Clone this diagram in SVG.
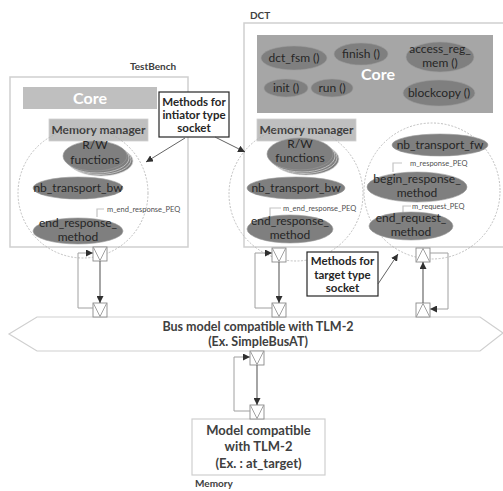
<svg xmlns="http://www.w3.org/2000/svg" width="503" height="491" viewBox="0 0 503 491">
  <style>
    text { font-family: Lato, "Liberation Sans", sans-serif; }
    .frame { fill: #ffffff; stroke: #cfcfcf; stroke-width: 1.5; }
    .title { font-size: 10px; font-weight: bold; fill: #404040; }
    .core { fill: #bfbfbf; }
    .coretxt { font-size: 16px; font-weight: bold; fill: #ffffff; text-anchor: middle; }
    .mm { fill: #bfbfbf; stroke: #d0d0d0; stroke-width: 0.8; }
    .mmtxt { font-size: 12px; font-weight: bold; fill: #404040; text-anchor: middle; }
    .ell { fill: #7f7f7f; stroke: #9a9a9a; stroke-width: 0.6; }
    .stack { fill: #7f7f7f; stroke: #d8d8d8; stroke-width: 0.7; }
    .etxt { font-size: 12px; fill: #262626; text-anchor: middle; }
    .ring { fill: none; stroke: #b0b0b0; stroke-width: 0.8; stroke-dasharray: 2 1.5; }
    .peq { font-size: 7.5px; fill: #505050; }
    .brk { fill: none; stroke: #c4c4c4; stroke-width: 1.2; }
    .note { fill: #ffffff; stroke: #262626; stroke-width: 1.2; }
    .notetxt { font-size: 11.5px; font-weight: bold; fill: #262626; text-anchor: middle; }
    .port { fill: #ffffff; stroke: #8a8a8a; stroke-width: 0.9; }
    .tri { fill: none; stroke: #8a8a8a; stroke-width: 0.8; }
    .flow { fill: none; stroke: #6a6a6a; stroke-width: 1.2; marker-end: url(#head); }
    .loop { fill: none; stroke: #a0a0a0; stroke-width: 1; marker-end: url(#head); }
    .point { fill: none; stroke: #505050; stroke-width: 0.9; marker-end: url(#head); }
    .bus { fill: #ffffff; stroke: #cfcfcf; stroke-width: 1.2; }
    .bustxt { font-size: 12.5px; font-weight: bold; fill: #404040; text-anchor: middle; }
    .memtxt { font-size: 13px; font-weight: bold; fill: #404040; text-anchor: middle; }
  </style>
  <defs>
    <marker id="head" viewBox="0 0 10 10" refX="10" refY="5" markerWidth="7" markerHeight="7" markerUnits="userSpaceOnUse" orient="auto">
      <path d="M0,0 L10,5 L0,10 z" fill="#303030"/>
    </marker>
    <g id="portDown">
      <rect class="port" x="0" y="0" width="14" height="14"/>
      <path class="tri" d="M0.5,0.5 L7,13.5 L13.5,0.5"/>
    </g>
    <g id="portUp">
      <rect class="port" x="0" y="0" width="14" height="14"/>
      <path class="tri" d="M0.5,13.5 L7,0.5 L13.5,13.5"/>
    </g>
  </defs>

  <rect width="503" height="491" fill="#ffffff"/>

  <!-- TestBench module -->
  <g id="testbench">
    <text class="title" x="153" y="70" text-anchor="middle">TestBench</text>
    <rect class="frame" x="10" y="77" width="178" height="170"/>
    <rect class="core" x="23" y="87" width="134" height="22"/>
    <text class="coretxt" x="90" y="104">Core</text>
    <rect class="mm" x="49" y="119" width="99" height="22"/>
    <text class="mmtxt" x="98.5" y="133.5">Memory manager</text>
  </g>

  <g id="tb-methods">
    <circle class="ring" cx="83" cy="193" r="65"/>
    <g id="tb-rw">
      <ellipse class="stack" cx="101" cy="161" rx="32" ry="15"/>
      <ellipse class="stack" cx="99" cy="159.5" rx="32" ry="15"/>
      <ellipse class="stack" cx="97" cy="158" rx="32" ry="15"/>
      <ellipse class="ell" cx="95" cy="156" rx="32" ry="15"/>
      <text class="etxt" x="95" y="149">R/W</text>
      <text class="etxt" x="95" y="163.5">functions</text>
    </g>
    <g id="tb-nb-bw">
      <ellipse class="ell" cx="78" cy="188" rx="45" ry="11"/>
      <text class="etxt" x="78" y="192">nb_transport_bw</text>
    </g>
    <g id="tb-end-resp">
      <path class="brk" d="M104,209 H97 V217"/>
      <text class="peq" x="107" y="211.5">m_end_response_PEQ</text>
      <ellipse class="ell" cx="78" cy="231" rx="45" ry="13"/>
      <text class="etxt" x="78" y="226.5">end_response_</text>
      <text class="etxt" x="78" y="241">method</text>
    </g>
  </g>

  <!-- DCT module -->
  <g id="dct">
    <text class="title" x="250" y="19">DCT</text>
    <rect class="frame" x="244" y="23" width="270" height="224"/>
    <rect class="core" x="257" y="35" width="236" height="78" style="fill:#a6a6a6"/>
    <text class="coretxt" x="378" y="80">Core</text>
    <g id="dct-fsm">
      <ellipse class="ell" cx="294" cy="58" rx="33" ry="12"/>
      <text class="etxt" x="294" y="62">dct_fsm ()</text>
    </g>
    <g id="dct-finish">
      <ellipse class="ell" cx="361" cy="54" rx="27" ry="11"/>
      <text class="etxt" x="361" y="58">finish ()</text>
    </g>
    <g id="dct-access">
      <ellipse class="ell" cx="440" cy="57" rx="34" ry="15"/>
      <text class="etxt" x="440" y="52.5">access_reg_</text>
      <text class="etxt" x="440" y="67">mem ()</text>
    </g>
    <g id="dct-init">
      <ellipse class="ell" cx="286" cy="88" rx="22" ry="9"/>
      <text class="etxt" x="286" y="92">init ()</text>
    </g>
    <g id="dct-run">
      <ellipse class="ell" cx="332" cy="88" rx="21" ry="9"/>
      <text class="etxt" x="332" y="92">run ()</text>
    </g>
    <g id="dct-blockcopy">
      <ellipse class="ell" cx="439" cy="93" rx="36" ry="13"/>
      <text class="etxt" x="439" y="97">blockcopy ()</text>
    </g>
    <rect class="mm" x="257" y="119" width="99" height="22"/>
    <text class="mmtxt" x="306.5" y="133.5">Memory manager</text>
  </g>

  <g id="dct-init-methods">
    <circle class="ring" cx="296" cy="194" r="67"/>
    <g id="dct-rw">
      <ellipse class="stack" cx="306" cy="159" rx="33" ry="16"/>
      <ellipse class="stack" cx="304" cy="157.5" rx="33" ry="16"/>
      <ellipse class="stack" cx="302" cy="156" rx="33" ry="16"/>
      <ellipse class="ell" cx="300" cy="154" rx="33" ry="16"/>
      <text class="etxt" x="300" y="147.5">R/W</text>
      <text class="etxt" x="300" y="162">functions</text>
    </g>
    <g id="dct-nb-bw">
      <ellipse class="ell" cx="296" cy="188" rx="49" ry="11"/>
      <text class="etxt" x="296" y="192">nb_transport_bw</text>
    </g>
    <g id="dct-end-resp">
      <path class="brk" d="M281,208 H270 V216"/>
      <text class="peq" x="283" y="210.5">m_end_response_PEQ</text>
      <ellipse class="ell" cx="290" cy="229" rx="43" ry="14"/>
      <text class="etxt" x="290" y="224.5">end_response_</text>
      <text class="etxt" x="290" y="239">method</text>
    </g>
  </g>

  <g id="dct-target-methods">
    <circle class="ring" cx="432" cy="191" r="68"/>
    <g id="dct-nb-fw">
      <ellipse class="ell" cx="440" cy="145" rx="48" ry="11"/>
      <text class="etxt" x="440" y="149">nb_transport_fw</text>
    </g>
    <g id="dct-begin-resp">
      <path class="brk" d="M402,163 H393 V172"/>
      <text class="peq" x="410" y="166">m_response_PEQ</text>
      <ellipse class="ell" cx="417" cy="187" rx="50" ry="15"/>
      <text class="etxt" x="417" y="182.5">begin_response_</text>
      <text class="etxt" x="417" y="197">method</text>
    </g>
    <g id="dct-end-req">
      <path class="brk" d="M411,206 H403 V213"/>
      <text class="peq" x="412" y="209">m_request_PEQ</text>
      <ellipse class="ell" cx="411" cy="226" rx="42" ry="14"/>
      <text class="etxt" x="411" y="221.5">end_request_</text>
      <text class="etxt" x="411" y="236">method</text>
    </g>
  </g>

  <!-- Callout notes -->
  <g id="note-initiator">
    <rect class="note" x="159" y="92" width="70" height="45"/>
    <text class="notetxt" x="194" y="106">Methods for</text>
    <text class="notetxt" x="194" y="119">intiator type</text>
    <text class="notetxt" x="194" y="132">socket</text>
  </g>
  <g id="note-target">
    <rect class="note" x="307" y="252" width="71" height="44"/>
    <text class="notetxt" x="342.5" y="265">Methods for</text>
    <text class="notetxt" x="342.5" y="279">target type</text>
    <text class="notetxt" x="342.5" y="292">socket</text>
  </g>

  <!-- Bus -->
  <g id="bus">
    <polygon class="bus" points="9,334 37,317 480,317 503,333 480,351 37,351"/>
    <text class="bustxt" x="258" y="331">Bus model compatible with TLM-2</text>
    <text class="bustxt" x="258" y="346">(Ex. SimpleBusAT)</text>
  </g>

  <!-- Memory -->
  <g id="memory">
    <rect class="frame" x="192" y="419" width="133" height="56" style="stroke-width:1.2"/>
    <text class="memtxt" x="258.5" y="435">Model compatible</text>
    <text class="memtxt" x="258.5" y="451">with TLM-2</text>
    <text class="memtxt" x="258.5" y="468">(Ex. : at_target)</text>
    <text class="title" x="195" y="487">Memory</text>
  </g>

  <!-- Sockets -->
  <g id="ports">
    <use href="#portDown" x="93" y="247"/>
    <use href="#portDown" x="93" y="303"/>
    <use href="#portDown" x="272" y="248"/>
    <use href="#portDown" x="272" y="303"/>
    <use href="#portUp" x="416" y="248"/>
    <use href="#portUp" x="416" y="303"/>
    <use href="#portDown" x="250" y="351"/>
    <use href="#portDown" x="250" y="405"/>
  </g>

  <!-- Connectors -->
  <g id="connectors">
    <path class="flow" d="M100,261 V303"/>
    <path class="loop" d="M93,308 H78 V253 H93"/>
    <path class="flow" d="M279,262 V303"/>
    <path class="loop" d="M272,308 H255 V253 H272"/>
    <path class="flow" d="M423,303 V262"/>
    <path class="loop" d="M430,253 H448 V309 H430"/>
    <path class="flow" d="M257,365 V405"/>
    <path class="loop" d="M250,411 H234 V357 H250"/>
    <path class="point" d="M185,138 L146,162"/>
    <path class="point" d="M215,137 L245,152"/>
    <path class="point" d="M378,284 L398,254"/>
  </g>
</svg>
